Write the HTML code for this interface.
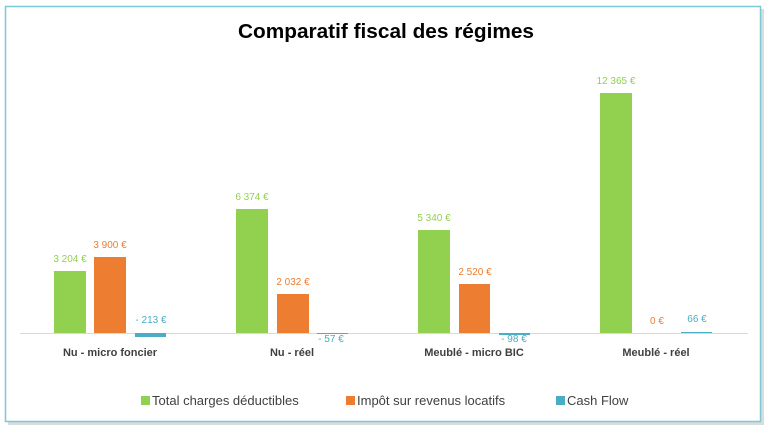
<!DOCTYPE html>
<html><head><meta charset="utf-8"><style>
html,body{margin:0;padding:0;background:#fff;}
svg{display:block;font-family:"Liberation Sans",sans-serif;}
</style></head><body>
<svg width="771" height="433" viewBox="0 0 771 433">
<rect x="0" y="0" width="771" height="433" fill="#fff"/>
<rect x="8" y="9" width="756" height="416" fill="#d8dcdc"/>
<rect x="5.5" y="6.5" width="755" height="415" fill="#fff" stroke="#7ec8d6" stroke-width="1.5"/>
<text x="386" y="38" text-anchor="middle" font-size="20" font-weight="bold" fill="#000" textLength="296" lengthAdjust="spacingAndGlyphs">Comparatif fiscal des régimes</text>
<line x1="20" y1="333.5" x2="748" y2="333.5" stroke="#d9d9d9" stroke-width="1"/>
<!-- group 1 -->
<rect x="54" y="271" width="32" height="62" fill="#92d050"/>
<rect x="94" y="257" width="32" height="76" fill="#ed7d31"/>
<rect x="135" y="333" width="31" height="4" fill="#4bacc6"/>
<!-- group 2 -->
<rect x="236" y="209" width="32" height="124" fill="#92d050"/>
<rect x="277" y="294" width="32" height="39" fill="#ed7d31"/>
<rect x="317" y="333" width="31" height="1" fill="#4bacc6"/>
<!-- group 3 -->
<rect x="418" y="230" width="32" height="103" fill="#92d050"/>
<rect x="459" y="284" width="31" height="49" fill="#ed7d31"/>
<rect x="499" y="333" width="31" height="2" fill="#4bacc6"/>
<!-- group 4 -->
<rect x="600" y="93" width="32" height="240" fill="#92d050"/>
<rect x="681" y="332" width="31" height="1" fill="#4bacc6"/>
<g font-size="10">
<text x="70" y="262" text-anchor="middle" fill="#92d050">3 204 €</text>
<text x="110" y="248" text-anchor="middle" fill="#ed7d31">3 900 €</text>
<text x="151" y="323" text-anchor="middle" fill="#4bacc6">- 213 €</text>
<text x="252" y="200" text-anchor="middle" fill="#92d050">6 374 €</text>
<text x="293" y="285" text-anchor="middle" fill="#ed7d31">2 032 €</text>
<text x="331" y="342" text-anchor="middle" fill="#4bacc6">- 57 €</text>
<text x="434" y="221" text-anchor="middle" fill="#92d050">5 340 €</text>
<text x="475" y="275" text-anchor="middle" fill="#ed7d31">2 520 €</text>
<text x="514" y="342" text-anchor="middle" fill="#4bacc6">- 98 €</text>
<text x="616" y="84" text-anchor="middle" fill="#92d050">12 365 €</text>
<text x="657" y="324" text-anchor="middle" fill="#ed7d31">0 €</text>
<text x="697" y="322" text-anchor="middle" fill="#4bacc6">66 €</text>
</g>
<g font-size="11" font-weight="bold" fill="#404040" text-anchor="middle">
<text x="110" y="356">Nu - micro foncier</text>
<text x="292" y="356">Nu - réel</text>
<text x="474" y="356">Meublé - micro BIC</text>
<text x="656" y="356">Meublé - réel</text>
</g>
<g font-size="13" fill="#404040">
<rect x="141" y="396" width="9" height="9" fill="#92d050"/>
<text x="152" y="405">Total charges déductibles</text>
<rect x="346" y="396" width="9" height="9" fill="#ed7d31"/>
<text x="357" y="405">Impôt sur revenus locatifs</text>
<rect x="556" y="396" width="9" height="9" fill="#4bacc6"/>
<text x="567" y="405">Cash Flow</text>
</g>
</svg>
</body></html>
